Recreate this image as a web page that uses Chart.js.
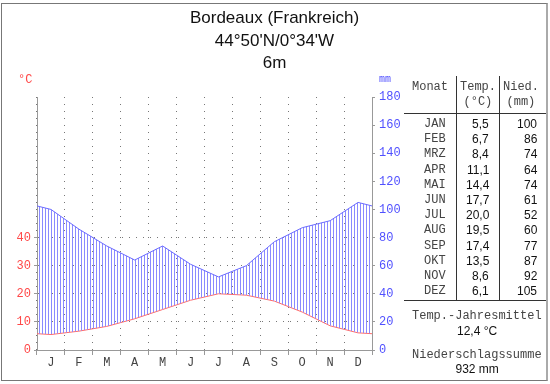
<!DOCTYPE html>
<html><head><meta charset="utf-8">
<script src="https://cdn.jsdelivr.net/npm/chart.js@4"></script>
<style>
html,body{margin:0;padding:0;background:#fff;}
#wrap{position:relative;width:550px;height:384px;overflow:hidden;font-family:"Liberation Sans",Arial,sans-serif;background:#fff;}
#frame{position:absolute;left:1px;top:3px;width:544px;height:376px;border:1px solid #777;border-right:2px solid #aaa;}
#c{position:absolute;left:0;top:0;}
.t{position:absolute;white-space:nowrap;line-height:14px;height:14px;}
.mono{font-family:"Liberation Mono","DejaVu Sans Mono",monospace;font-size:12px;color:#444;}
.sans{font-family:"Liberation Sans",Arial,sans-serif;font-size:12px;color:#111;}
.title{font-family:"Liberation Sans",Arial,sans-serif;font-size:17px;color:#111;width:550px;left:0;text-align:center;line-height:20px;height:20px;}
.hl{position:absolute;height:1px;background:#333;}
.vl{position:absolute;width:1px;background:#333;}
</style>
</head><body>
<div id="wrap">
<canvas id="c" width="550" height="384"></canvas>
<div id="frame"></div>
</div>
<script>
// ---- data ----
const stationTitle = ["Bordeaux (Frankreich)", "44°50'N/0°34'W", "6m"];
const monthLabels = ['J','F','M','A','M','J','J','A','S','O','N','D'];
const monthNames = ['JAN','FEB','MRZ','APR','MAI','JUN','JUL','AUG','SEP','OKT','NOV','DEZ'];
const tempC = [5.5, 6.7, 8.4, 11.1, 14.4, 17.7, 20.0, 19.5, 17.4, 13.5, 8.6, 6.1];
const precipMm = [100, 86, 74, 64, 74, 61, 52, 60, 77, 87, 92, 105];
const tempTickLabels = [0, 10, 20, 30, 40];
const precipTickLabels = [0, 20, 40, 60, 80, 100, 120, 140, 160, 180];

// ---- build series (month centres, ends = mean of Dec/Jan) ----
function series(arr){
  const edge = (arr[0] + arr[arr.length-1]) / 2;
  return [{x:0,y:edge}].concat(arr.map((v,i)=>({x:i+0.5,y:v})), [{x:arr.length,y:edge}]);
}
const fmt = v => v.toFixed(1).replace('.', ',');

// hatch pattern
const pc = document.createElement('canvas');
pc.width = 3; pc.height = 4;
const pctx = pc.getContext('2d');
pctx.fillStyle = '#8a8aff';
pctx.fillRect(0,0,1,4);
const hatch = document.getElementById('c').getContext('2d').createPattern(pc,'repeat');

const MONO = '"Liberation Mono","DejaVu Sans Mono",monospace';
const GRID = '#777';
const AXIS = '#999';

new Chart(document.getElementById('c'), {
  type: 'line',
  data: {
    datasets: [
      {label:'Niederschlag', data: series(precipMm), xAxisID:'xl', yAxisID:'y2',
       borderColor:'#6a6aff', borderWidth:1, pointRadius:0, tension:0,
       fill:{target:1, above:hatch, below:'rgba(0,0,0,0)'}},
      {label:'Temperatur', data: series(tempC), xAxisID:'xl', yAxisID:'y',
       borderColor:'#ff6a6a', borderWidth:1, pointRadius:0, tension:0, fill:false}
    ]
  },
  options: {
    responsive:false, animation:false, devicePixelRatio:1,
    layout:{padding:{top:97,left:0,right:0,bottom:0}},
    plugins:{legend:{display:false}, tooltip:{enabled:false}, title:{display:false}},
    scales:{
      x:{type:'category', labels:monthLabels, offset:true, position:'bottom',
         grid:{offset:true, color:GRID, lineWidth:1, tickLength:5, tickColor:AXIS, drawTicks:true},
         border:{display:true, color:AXIS, dash:[1,6]},
         ticks:{color:'#444', font:{family:MONO, size:12}, padding:1, maxRotation:0, autoSkip:false},
         afterFit:s=>{s.height=34;}},
      xl:{type:'linear', min:0, max:12, display:false},
      y:{type:'linear', position:'left', min:0, max:90,
         ticks:{stepSize:10, color:'#ff4848', font:{family:MONO, size:12}, padding:3,
                callback:v=> tempTickLabels.includes(v) ? String(v) : null},
         grid:{color:GRID, tickLength:3, tickColor:AXIS},
         border:{display:true, color:AXIS, dash:[1,6]},
         afterFit:s=>{s.width=37;}},
      y2:{type:'linear', position:'right', min:0, max:180,
         afterBuildTicks:s=>{s.ticks = precipTickLabels.map(v=>({value:v}));},
         ticks:{color:'#5050ff', font:{family:MONO, size:12}, padding:4},
         grid:{drawOnChartArea:false, tickLength:3, tickColor:AXIS},
         border:{display:true, color:AXIS},
         afterFit:s=>{s.width=178;}}
    }
  }
});

// ---- text overlays ----
const wrap = document.getElementById('wrap');
function txt(s, cls, cx, cy, align, extra){
  const d = document.createElement('div');
  d.className = 't ' + cls;
  d.textContent = s;
  if (extra) Object.assign(d.style, extra);
  wrap.appendChild(d);
  const w = d.offsetWidth, h = d.offsetHeight;
  let left = cx - w/2;
  if (align === 'right') left = cx - w;
  if (align === 'left') left = cx;
  d.style.left = left + 'px';
  d.style.top = (cy - h/2) + 'px';
  return d;
}
function line(cls, l, t, w, h){
  const d = document.createElement('div');
  d.className = cls;
  d.style.left = l+'px'; d.style.top = t+'px';
  if (w) d.style.width = w+'px';
  if (h) d.style.height = h+'px';
  wrap.appendChild(d);
}
// title
stationTitle.forEach((s,i)=>{
  const d = document.createElement('div');
  d.className = 't title'; d.textContent = s;
  d.style.top = (8 + i*22.5) + 'px';
  d.style.left = '0px';
  d.style.width = '549px';
  wrap.appendChild(d);
});
txt('°C', 'mono', 25, 80, 'center', {color:'#ff4848'});
txt('mm', 'mono', 385, 80, 'center', {color:'#5050ff', fontSize:'10px'});

// table
line('vl', 456, 76, null, 225);
line('vl', 499, 76, null, 225);
line('hl', 404, 113, 142, null);
line('hl', 404, 300, 142, null);
txt('Monat', 'mono', 430, 87, 'center');
txt('Temp.', 'mono', 478, 87, 'center');
txt('(°C)', 'mono', 478, 102, 'center');
txt('Nied.', 'mono', 521, 87, 'center');
txt('(mm)', 'mono', 521, 102, 'center');
monthNames.forEach((m,i)=>{
  const cy = 124 + i*15.2;
  txt(m, 'mono', 435, cy, 'center');
  txt(fmt(tempC[i]), 'sans', 489, cy, 'right');
  txt(String(precipMm[i]), 'sans', 537, cy, 'right');
});
const meanT = tempC.reduce((a,b)=>a+b,0)/tempC.length;
const sumP = precipMm.reduce((a,b)=>a+b,0);
txt('Temp.-Jahresmittel', 'mono', 477, 316, 'center');
txt(fmt(meanT) + ' °C', 'sans', 477, 331, 'center');
txt('Niederschlagssumme', 'mono', 477, 355, 'center');
txt(sumP + ' mm', 'sans', 477, 369, 'center');
</script>
</body></html>
